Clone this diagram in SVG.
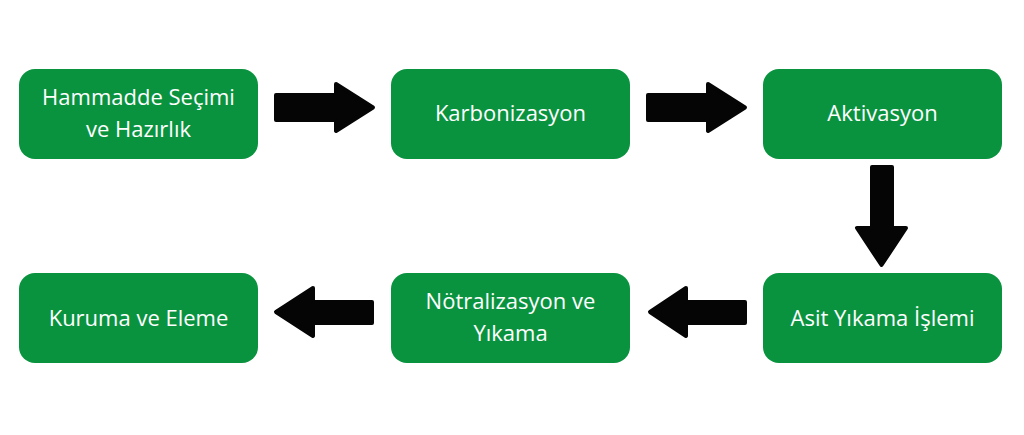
<svg xmlns="http://www.w3.org/2000/svg" width="1024" height="435" viewBox="0 0 1024 435">
<defs>
<style>
.box{fill:#0a933f;}
.lbl{font-family:"Open Sans","Noto Sans",sans-serif;font-size:22px;font-weight:500;fill:#ffffff;text-anchor:middle;}
.arr{fill:#050505;stroke:#050505;stroke-width:4;stroke-linejoin:round;}
</style>
</defs>
<rect width="1024" height="435" fill="#ffffff"/>
<g id="n1"><rect class="box" x="19" y="69" width="239" height="90" rx="16"/><text class="lbl" x="138.5" y="105">Hammadde Seçimi</text><text class="lbl" x="138.5" y="137">ve Hazırlık</text></g>
<g id="n2"><rect class="box" x="391" y="69" width="239" height="90" rx="16"/><text class="lbl" x="510.5" y="121">Karbonizasyon</text></g>
<g id="n3"><rect class="box" x="763" y="69" width="239" height="90" rx="16"/><text class="lbl" x="882.5" y="121">Aktivasyon</text></g>
<g id="n4"><rect class="box" x="763" y="273" width="239" height="90" rx="16"/><text class="lbl" x="882.5" y="326">Asit Yıkama İşlemi</text></g>
<g id="n5"><rect class="box" x="391" y="273" width="239" height="90" rx="16"/><text class="lbl" x="510.5" y="309">Nötralizasyon ve</text><text class="lbl" x="510.5" y="341">Yıkama</text></g>
<g id="n6"><rect class="box" x="19" y="273" width="239" height="90" rx="16"/><text class="lbl" x="138.5" y="326">Kuruma ve Eleme</text></g>
<g id="connectors">
<polygon class="arr" points="276,95 336,95 336,84 373,107.5 336,131 336,120 276,120"/>
<polygon class="arr" points="648,95 708,95 708,84 745,107.5 708,131 708,120 648,120"/>
<polygon class="arr" points="872,167 892,167 892,228 906,228 881.5,265 857,228 872,228"/>
<polygon class="arr" points="745,302 686,302 686,288 650,312 686,336 686,323 745,323"/>
<polygon class="arr" points="372,302 313,302 313,288 276,312 313,336 313,323 372,323"/>
</g>
</svg>
